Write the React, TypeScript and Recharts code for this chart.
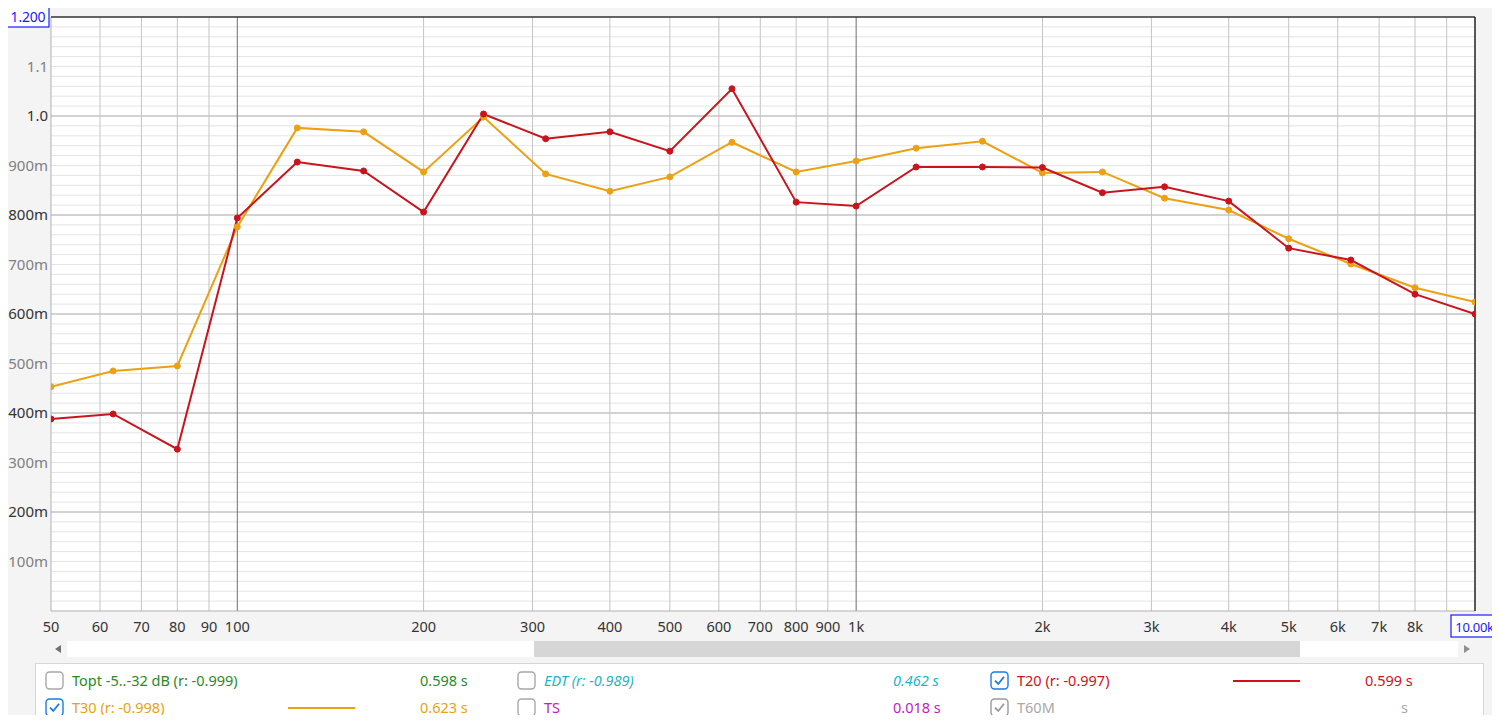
import React from 'react';
import { LineChart, Line, XAxis, YAxis, ReferenceLine } from 'recharts';

// 1/3-octave band centres (Hz)
const frequencies = [50, 63, 80, 100, 125, 160, 200, 250, 315, 400, 500, 630, 800, 1000, 1250, 1600, 2000, 2500, 3150, 4000, 5000, 6300, 8000, 10000];

// reverberation times (s)
const t20Values = [0.388, 0.398, 0.327, 0.794, 0.907, 0.889, 0.806, 1.004, 0.954, 0.968, 0.929, 1.055, 0.826, 0.818, 0.897, 0.897, 0.896, 0.845, 0.857, 0.828, 0.733, 0.709, 0.640, 0.600];
const t30Values = [0.453, 0.485, 0.495, 0.776, 0.976, 0.968, 0.887, 0.998, 0.883, 0.848, 0.877, 0.947, 0.887, 0.909, 0.935, 0.949, 0.885, 0.887, 0.834, 0.810, 0.752, 0.701, 0.653, 0.624];

const xTickValues = [50, 60, 70, 80, 90, 100, 200, 300, 400, 500, 600, 700, 800, 900, 1000, 2000, 3000, 4000, 5000, 6000, 7000, 8000, 10000];
const xGridValues = [60, 70, 80, 90, 100, 200, 300, 400, 500, 600, 700, 800, 900, 1000, 2000, 3000, 4000, 5000, 6000, 7000, 8000, 9000];
const yTickValues = [0.1, 0.2, 0.3, 0.4, 0.5, 0.6, 0.7, 0.8, 0.9, 1.0, 1.1, 1.2];
const yMinorValues = Array.from({ length: 59 }, (_, i) => Math.round((i + 1) * 2) / 100);

const RED = '#c8141c';
const ORANGE = '#eba112';
const FONT = '"Noto Sans", "Open Sans", sans-serif';

const chartData = frequencies.map((f, i) => ({ freq: f, t20: t20Values[i], t30: t30Values[i] }));

const fmtX = (v: number) => (v === 10000 ? '10.00k' : v >= 1000 ? `${v / 1000}k` : `${v}`);
const fmtY = (v: number) => (v >= 1.15 ? '1.200' : v >= 0.95 ? v.toFixed(1) : `${Math.round(v * 1000)}m`);

const XTick = (props: any) => {
  const { x, payload } = props;
  const v = payload.value;
  if (v === 10000) {
    return (
      <g>
        <rect x={1451} y={615} width={47} height={22} fill="#fff" stroke="#1a1aff" strokeWidth={1.2} />
        <text x={1474.5} y={631.5} textAnchor="middle" fontSize={13} letterSpacing={-0.3} fontFamily={FONT} fill="#1a1aff">{fmtX(v)}</text>
      </g>
    );
  }
  return (
    <text x={x} y={632} textAnchor="middle" fontSize={14.5} fontFamily={FONT} fill="#333">{fmtX(v)}</text>
  );
};

const YTick = (props: any) => {
  const { y, payload } = props;
  const v = payload.value;
  if (v >= 1.15) {
    return (
      <g>
        <rect x={7} y={y - 10} width={42} height={20} fill="#fff" stroke="#1a1aff" strokeWidth={1.2} />
        <text x={28} y={y + 5} textAnchor="middle" fontSize={14} letterSpacing={-0.2} fontFamily={FONT} fill="#1a1aff">{fmtY(v)}</text>
      </g>
    );
  }
  const strong = Math.round(v * 10) % 2 === 0;
  return (
    <text x={48} y={y + 5} textAnchor="end" fontSize={15} fontFamily={FONT} fill={strong ? '#333' : '#808080'}>{fmtY(v)}</text>
  );
};

const CheckBox = ({ checked, gray }: { checked?: boolean; gray?: boolean }) => {
  const border = checked ? (gray ? '#9a9a9a' : '#1a7ae8') : '#a8a8a8';
  return (
    <svg width={19} height={19} style={{ position: 'absolute', left: 0, top: 0 }}>
      <rect x={1} y={1} width={17} height={17} rx={3.5} fill="#fff" stroke={border} strokeWidth={1.4} />
      {checked && <path d="M5 9.6 L8.3 13 L14 5.8" fill="none" stroke={border} strokeWidth={1.8} />}
    </svg>
  );
};

const LegendItem = (p: { left: number; top: number; label: string; color: string; value: string; valueLeft: number; checked?: boolean; gray?: boolean; italic?: boolean; line?: number }) => (
  <>
    <div style={{ position: 'absolute', left: p.left, top: p.top, width: 19, height: 19 }}>
      <CheckBox checked={p.checked} gray={p.gray} />
    </div>
    <div style={{ position: 'absolute', left: p.left + 27, top: p.top - 1, color: p.color, fontStyle: p.italic ? 'italic' : 'normal', whiteSpace: 'nowrap' }}>{p.label}</div>
    {p.line !== undefined && (
      <div style={{ position: 'absolute', left: p.line, top: p.top + 9, width: 67, height: 2, background: p.color }} />
    )}
    <div style={{ position: 'absolute', left: p.valueLeft, top: p.top - 1, color: p.color, fontStyle: p.italic ? 'italic' : 'normal', whiteSpace: 'nowrap' }}>{p.value}</div>
  </>
);

export default function App() {
  return (
    <div style={{ position: 'relative', margin: -8, width: 1500, height: 723, background: '#f4f4f4', overflow: 'hidden', fontFamily: FONT, fontSize: 14.5 }}>
      <div style={{ position: 'absolute', left: 51, top: 17, width: 1424, height: 594, background: '#fff' }} />
      <svg width={60} height={16} style={{ position: 'absolute', left: 0, top: 0 }}>
        <text x={43} y={12} fontSize={10} fontFamily={FONT} fill="#444">s</text>
      </svg>
      <div style={{ position: 'absolute', left: 0, top: 0 }}>
        <LineChart width={1500} height={723} data={chartData} margin={{ top: 17, right: 25, bottom: 0, left: 0 }}>
          <XAxis
            dataKey="freq"
            type="number"
            scale="log"
            domain={[50, 10000]}
            allowDataOverflow
            ticks={xTickValues}
            interval={0}
            height={112}
            axisLine={false}
            tickLine={false}
            tick={<XTick />}
          />
          <YAxis
            type="number"
            domain={[0, 1.2]}
            ticks={yTickValues}
            interval={0}
            width={51}
            axisLine={false}
            tickLine={false}
            tick={<YTick />}
          />
          {yMinorValues.map(v => (
            <ReferenceLine key={`hm${v}`} y={v} stroke="#e4e4e4" strokeWidth={1} />
          ))}
          {[0.2, 0.4, 0.6, 0.8, 1.0].map(v => (
            <ReferenceLine key={`hM${v}`} y={v} stroke="#b4b4b4" strokeWidth={1} />
          ))}
          {xGridValues.map(v => (
            <ReferenceLine key={`v${v}`} x={v} stroke={v === 100 || v === 1000 ? '#6e6e6e' : '#c4c4c4'} strokeWidth={1} />
          ))}
          <ReferenceLine x={50} stroke="#b0b0b0" strokeWidth={1} />
          <ReferenceLine y={0} stroke="#b0b0b0" strokeWidth={1} />
          <ReferenceLine y={1.2} stroke="#333" strokeWidth={1.5} />
          <ReferenceLine x={10000} stroke="#222" strokeWidth={1.5} />
          <Line
            type="linear"
            dataKey="t30"
            stroke={ORANGE}
            strokeWidth={2}
            dot={{ r: 3, fill: ORANGE, stroke: ORANGE, strokeWidth: 1 }}
            isAnimationActive={false}
          />
          <Line
            type="linear"
            dataKey="t20"
            stroke={RED}
            strokeWidth={2}
            dot={{ r: 3, fill: RED, stroke: RED, strokeWidth: 1 }}
            isAnimationActive={false}
          />
        </LineChart>
      </div>

      {/* scrollbar */}
      <svg width={1500} height={20} style={{ position: 'absolute', left: 0, top: 640 }}>
        <rect x={67} y={1} width={1391} height={16} fill="#fff" />
        <rect x={534} y={1} width={766} height={16} fill="#d6d6d6" />
        <path d="M61 5 L55 9 L61 13 Z" fill="#707070" />
        <path d="M1464 5 L1470 9 L1464 13 Z" fill="#909090" />
      </svg>

      {/* legend panel */}
      <div style={{ position: 'absolute', left: 35, top: 663, width: 1447, height: 70, background: '#fff', border: '1px solid #d6d6d6' }}>
        <LegendItem left={9} top={7} label="Topt -5..-32 dB (r: -0.999)" color="#2b8a22" value="0.598 s" valueLeft={384} />
        <LegendItem left={481} top={7} label="EDT (r: -0.989)" color="#1bb5c7" value="0.462 s" valueLeft={857} italic />
        <LegendItem left={954} top={7} label="T20 (r: -0.997)" color="#d0101a" value="0.599 s" valueLeft={1329} checked line={1197} />
        <LegendItem left={9} top={34} label="T30 (r: -0.998)" color={ORANGE} value="0.623 s" valueLeft={384} checked line={252} />
        <LegendItem left={481} top={34} label="TS" color="#c21cc2" value="0.018 s" valueLeft={857} />
        <LegendItem left={954} top={34} label="T60M" color="#a8a8a8" value="s" valueLeft={1365} checked gray />
      </div>
    </div>
  );
}
